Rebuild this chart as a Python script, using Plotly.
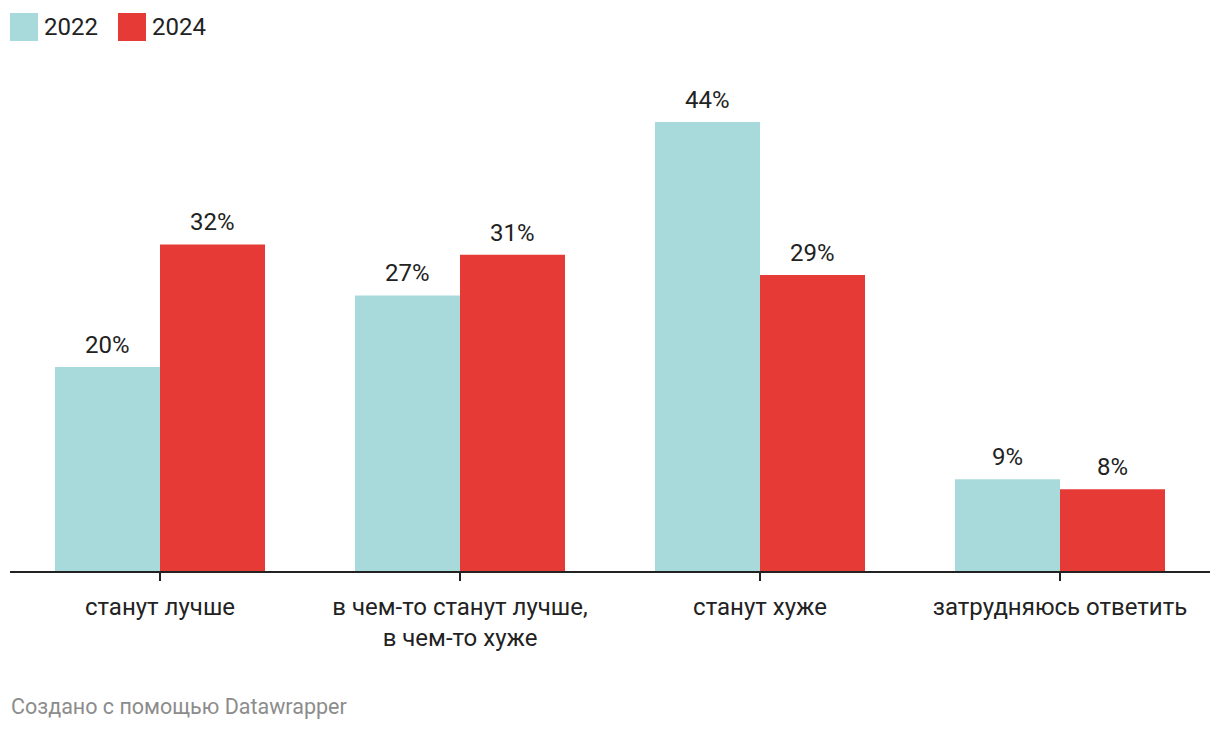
import plotly.graph_objects as go

categories = ["станут лучше", "в чем-то станут лучше,<br>в чем-то хуже", "станут хуже", "затрудняюсь ответить"]
values_2022 = [20, 27, 44, 9]
values_2024 = [32, 31, 29, 8]
series_names = ["2022", "2024"]
colors = ["#a8dadc", "#e63a37"]

FONT = "Roboto"
TXT = "#222222"

fig = go.Figure()
for name, vals, col in zip(series_names, [values_2022, values_2024], colors):
    fig.add_trace(go.Bar(
        x=categories, y=vals, name=name, marker=dict(color=col, line=dict(width=0)),
        showlegend=False, hoverinfo="x+y",
    ))

# value labels above bars
bar_px = 105
for i, vals in enumerate([values_2022, values_2024]):
    offset = (-0.5 if i == 0 else 0.5) * bar_px
    for c, v in zip(categories, vals):
        fig.add_annotation(x=c, y=v, xref="x", yref="y", text=f"{v}%",
                           showarrow=False, xanchor="center", yanchor="bottom",
                           xshift=offset, yshift=6,
                           font=dict(family=FONT, size=24, color=TXT))

fig.update_layout(
    width=1220, height=732,
    margin=dict(l=10, r=10, t=122, b=161),
    barmode="group", bargap=0.3, bargroupgap=0,
    plot_bgcolor="white", paper_bgcolor="white",
    font=dict(family=FONT, size=24, color=TXT),
    xaxis=dict(
        type="category", showline=True, linecolor=TXT, linewidth=2,
        ticks="outside", ticklen=8, tickwidth=2, tickcolor=TXT,
        tickfont=dict(family=FONT, size=24, color=TXT),
        ticklabelstandoff=5, showgrid=False,
    ),
    yaxis=dict(range=[0, 44], visible=False, showgrid=False, zeroline=False),
)

# Legend drawn manually
legend_x = [10, 118]
for i, (name, col) in enumerate(zip(series_names, colors)):
    x0 = legend_x[i]
    fig.add_shape(type="rect", xref="paper", yref="paper",
                  x0=(x0 - 10) / 1200, x1=(x0 + 28 - 10) / 1200,
                  y0=(571 - 41) / 449, y1=(571 - 13) / 449,
                  fillcolor=col, line=dict(width=0), layer="above")
    fig.add_annotation(xref="paper", yref="paper", x=(x0 + 32 - 10) / 1200,
                       y=(571 - 27) / 449, text=name, showarrow=False,
                       xanchor="left", yanchor="middle",
                       font=dict(family=FONT, size=24, color=TXT))

fig.add_annotation(xref="paper", yref="paper", x=-0.001, y=(571 - 706) / 449,
                   text="Создано с помощью Datawrapper", showarrow=False,
                   xanchor="left", yanchor="middle",
                   font=dict(family=FONT, size=21.5, color="#8c8c8c"))

fig.write_html("out.html")
